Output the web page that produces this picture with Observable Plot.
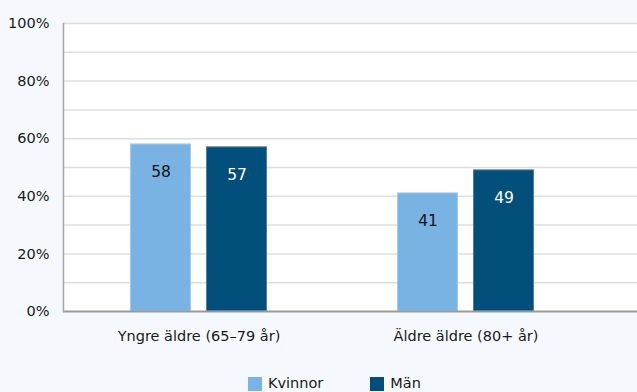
<!DOCTYPE html>
<html><head><meta charset="utf-8">
<script src="https://cdn.jsdelivr.net/npm/d3@7"></script>
<script src="https://cdn.jsdelivr.net/npm/@observablehq/plot@0.6"></script>
<style>
html,body{margin:0;padding:0;background:#f5f9fd;font-family:"DejaVu Sans",sans-serif;width:637px;height:392px;overflow:hidden;}
#chart{position:absolute;left:0;top:0;}
#legend{position:absolute;left:248px;top:375px;display:flex;align-items:center;font-size:14.5px;line-height:17px;color:#1a1a1a;}
.item{display:flex;align-items:center;margin-right:47px;}
.sw{width:14px;height:14px;margin-right:6px;display:inline-block;}
</style></head><body>
<div id="chart"></div>
<div id="legend"></div>
<script>
const groups = ["Yngre äldre (65–79 år)", "Äldre äldre (80+ år)"];
const series = ["Kvinnor", "Män"];
const kvinnor = [58, 41];
const man = [57, 49];
const yTicks = [0, 20, 40, 60, 80, 100];
const gridTicks = [10, 20, 30, 40, 50, 60, 70, 80, 90, 100];
const colors = ["#79b3e3", "#024f7b"];

const dataK = groups.map((g, i) => ({group: g, sex: series[0], value: kvinnor[i]}));
const dataM = groups.map((g, i) => ({group: g, sex: series[1], value: man[i]}));

const plot = Plot.plot({
  width: 637, height: 372,
  marginLeft: 63, marginRight: 0, marginTop: 23, marginBottom: 61,
  style: {background: "transparent", fontFamily: "DejaVu Sans", fontSize: "14.5px", color: "#1a1a1a", overflow: "visible"},
  x: {domain: groups, range: [64.5, 599], padding: 0, axis: null},
  y: {domain: [0, 100], axis: null},
  color: {domain: series, range: colors},
  marks: [
    Plot.frame({fill: "white", stroke: null}),
    Plot.ruleY(gridTicks, {stroke: "#dedede", strokeWidth: 1.5}),
    Plot.barY(dataK, {x: "group", y: "value", fill: "sex", stroke: "#a3ccee", strokeWidth: 1, insetLeft: 65.5, insetRight: 141.5}),
    Plot.barY(dataM, {x: "group", y: "value", fill: "sex", stroke: "#4d7fa0", strokeWidth: 1, insetLeft: 141.5, insetRight: 65.5}),
    Plot.text(dataK, {x: "group", y: "value", text: d => String(d.value), dx: -38, dy: 28, fill: "#111", fontSize: 15.5}),
    Plot.text(dataM, {x: "group", y: "value", text: d => String(d.value), dx: 38, dy: 28, fill: "#fff", fontSize: 15.5}),
    Plot.ruleY([0], {stroke: "#999", strokeWidth: 2}),
    Plot.frame({anchor: "left", stroke: "#a6a6a6", strokeWidth: 1.5}),
    Plot.axisY(yTicks, {tickSize: 0, tickPadding: 14, tickFormat: d => d + "%", fontSize: 14.5, fill: "#1a1a1a", label: null}),
    Plot.axisX({tickSize: 0, tickPadding: 19, fontSize: 14.5, fill: "#1a1a1a", label: null})
  ]
});
document.getElementById("chart").appendChild(plot);

const legend = document.getElementById("legend");
series.forEach((s, i) => {
  const it = document.createElement("div");
  it.className = "item";
  const sw = document.createElement("span");
  sw.className = "sw";
  sw.style.background = colors[i];
  it.appendChild(sw);
  const t = document.createElement("span");
  t.textContent = s;
  it.appendChild(t);
  legend.appendChild(it);
});
</script>
</body></html>
